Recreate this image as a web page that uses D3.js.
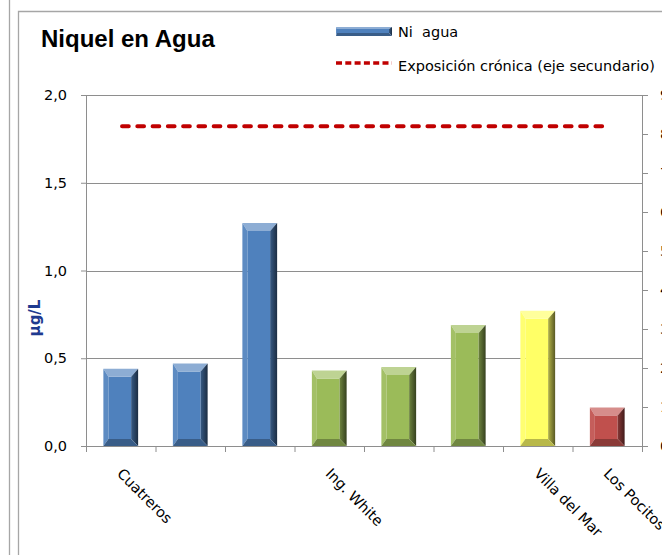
<!DOCTYPE html>
<html>
<head>
<meta charset="utf-8">
<script src="https://cdn.jsdelivr.net/npm/d3@7"></script>
<style>
  body { margin: 0; background: #fff; overflow: hidden; }
  svg { display: block; font-family: "DejaVu Sans", Verdana, sans-serif; }
</style>
</head>
<body>
<svg id="chart"></svg>
<script>
// data
var categories = ["Cuatreros", "", "", "Ing. White", "", "", "Villa del Mar", "Los Pocitos"];
var sitios = ["Cuatreros", "Cuatreros", "Cuatreros", "Ing. White", "Ing. White", "Ing. White", "Villa del Mar", "Los Pocitos"];
var niAgua = [0.44, 0.47, 1.27, 0.43, 0.45, 0.69, 0.77, 0.22];
var exposicionCronica = [82, 82, 82, 82, 82, 82, 82, 82];
var yTicks = [0, 0.5, 1.0, 1.5, 2.0];
var y2Ticks = [0, 10, 20, 30, 40, 50, 60, 70, 80, 90];

var width = 662, height = 555;
var plotLeft = 86, plotRight = 642, plotTop = 95, plotBottom = 446;
var gridColor = "#8E8E8E";

var svg = d3.select("#chart").attr("width", width).attr("height", height);
var defs = svg.append("defs");

// chart frames (neighbour chart edge + this chart's border)
svg.append("line").attr("x1", 9.5).attr("x2", 9.5).attr("y1", 0).attr("y2", height)
    .attr("stroke", "#A6A6A6").attr("stroke-width", 1.3);
svg.append("path").attr("d", "M18.5," + height + "V11.5H" + width)
    .attr("fill", "none").attr("stroke", "#A6A6A6").attr("stroke-width", 1.3);

var color = d3.scaleOrdinal()
    .domain(["Cuatreros", "Ing. White", "Villa del Mar", "Los Pocitos"])
    .range(["#4F81BD", "#9BBB59", "#FFFF66", "#C0504D"]);

var x = d3.scaleBand()
    .domain(d3.range(categories.length))
    .range([plotLeft, plotRight])
    .paddingInner(0.5)
    .paddingOuter(0.25);

var xEdges = d3.scaleLinear().domain([0, categories.length]).range([plotLeft, plotRight]);
var y = d3.scaleLinear().domain([0, 2]).range([plotBottom, plotTop]);
var y2 = d3.scaleLinear().domain([0, 90]).range([plotBottom, plotTop]);

var comma = d3.formatLocale({decimal: ",", thousands: ".", grouping: [3], currency: ["$", ""]});

// gridlines
svg.append("g").selectAll("line")
    .data(yTicks.filter(function(d) { return d > 0; }))
    .enter().append("line")
    .attr("x1", plotLeft).attr("x2", plotRight)
    .attr("y1", function(d) { return Math.round(y(d)) + 0.5; })
    .attr("y2", function(d) { return Math.round(y(d)) + 0.5; })
    .attr("stroke", gridColor);

// left axis
var gy = svg.append("g").attr("transform", "translate(" + plotLeft + ",0)")
    .call(d3.axisLeft(y).tickValues(yTicks).tickFormat(comma.format(".1f"))
        .tickSize(5).tickSizeOuter(0).tickPadding(14));

// right axis (labels run off the picture edge, as in the original)
var gy2 = svg.append("g").attr("transform", "translate(" + plotRight + ",0)")
    .call(d3.axisRight(y2).tickValues(y2Ticks).tickFormat(d3.format("d"))
        .tickSize(6).tickSizeOuter(0).tickPadding(12));

// bottom axis: ticks on category edges
var gx = svg.append("g").attr("transform", "translate(0," + plotBottom + ")")
    .call(d3.axisBottom(xEdges).tickValues(d3.range(categories.length + 1))
        .tickFormat("").tickSize(6).tickSizeOuter(0));

[gy, gy2, gx].forEach(function(g) {
    g.selectAll("path, line").attr("stroke", gridColor);
    g.selectAll("text").attr("fill", "#000").style("font-size", "14.5px")
        .style("font-family", "'DejaVu Sans', Verdana, sans-serif");
});

// category labels, rotated 45 degrees
svg.append("g").selectAll("text")
    .data(categories)
    .enter().append("text")
    .attr("transform", function(d, i) {
        return "translate(" + (x(i) + x.bandwidth() / 2 - 1) + ",471) rotate(45)";
    })
    .attr("dy", "0.35em")
    .attr("text-anchor", "start")
    .style("font-size", "14.5px")
    .text(function(d) { return d; });

// bevelled bar drawing
function mix(c, other, t) { return d3.interpolateRgb(c, other)(t); }

function bevel(g, x0, x1, yT, yB, c, ins) {
    var t = Math.min(ins.t, (yB - yT) / 2), b = Math.min(ins.b, (yB - yT) / 2);
    var l = ins.l, r = ins.r;
    function poly(pts, fill) {
        g.append("polygon").attr("points", pts.map(function(p) { return p.join(","); }).join(" "))
            .attr("fill", fill);
    }
    poly([[x0 + l, yT + t], [x1 - r, yT + t], [x1 - r, yB - b], [x0 + l, yB - b]], c);
    poly([[x0, yT], [x1, yT], [x1 - r, yT + t], [x0 + l, yT + t]], mix(c, "#fff", 0.35));
    poly([[x0, yT], [x0 + l, yT + t], [x0 + l, yB - b], [x0, yB]], mix(c, "#fff", 0.08));
    poly([[x1, yT], [x1, yB], [x1 - r, yB - b], [x1 - r, yT + t]], "url(#right-" + c.slice(1) + ")");
    poly([[x0, yB], [x0 + l, yB - b], [x1 - r, yB - b], [x1, yB]], mix(c, "#000", 0.28));
}

color.range().forEach(function(c) {
    var gr = defs.append("linearGradient").attr("id", "right-" + c.slice(1))
        .attr("x1", 0).attr("x2", 1).attr("y1", 0).attr("y2", 0);
    gr.append("stop").attr("offset", 0).attr("stop-color", mix(c, "#000", 0.3));
    gr.append("stop").attr("offset", 1).attr("stop-color", mix(c, "#000", 0.65));
});

var bars = svg.append("g");
niAgua.forEach(function(v, i) {
    var g = bars.append("g");
    bevel(g, x(i), x(i) + x.bandwidth(), y(v), y(0), color(sitios[i]), {t: 8, b: 7, l: 5, r: 7});
});

// chronic exposure line (secondary axis)
var line = d3.line()
    .x(function(d, i) { return x(i) + x.bandwidth() / 2; })
    .y(function(d) { return y2(d); });

svg.append("path")
    .datum(exposicionCronica)
    .attr("d", line)
    .attr("fill", "none")
    .attr("stroke", "#C00000")
    .attr("stroke-width", 4)
    .attr("stroke-linecap", "round")
    .attr("stroke-dasharray", "6.7,8.57")
    .attr("stroke-dashoffset", -1.3);

// title
svg.append("text")
    .attr("x", 41).attr("y", 47)
    .style("font-family", "'Liberation Sans', Arial, sans-serif")
    .style("font-weight", "bold")
    .style("font-size", "24px")
    .text("Niquel en Agua");

// y axis title
svg.append("text")
    .attr("transform", "translate(40,318) rotate(-90)")
    .attr("text-anchor", "middle")
    .style("font-weight", "bold")
    .style("font-size", "15px")
    .attr("fill", "#1F3A8F")
    .text("µg/L");

// legend
var legend = svg.append("g");
bevel(legend.append("g"), 336, 392, 27, 36, color("Cuatreros"), {t: 2, b: 3, l: 1, r: 3});
legend.append("text").attr("x", 398).attr("y", 37).style("font-size", "14.5px")
    .style("white-space", "pre").text("Ni  agua");
legend.append("line")
    .attr("x1", 336).attr("x2", 392).attr("y1", 63).attr("y2", 63)
    .attr("stroke", "#C00000").attr("stroke-width", 3.5)
    .attr("stroke-dasharray", "6,3.3");
legend.append("text").attr("x", 398).attr("y", 71).style("font-size", "14.5px")
    .text("Exposición crónica (eje secundario)");
</script>
</body>
</html>
